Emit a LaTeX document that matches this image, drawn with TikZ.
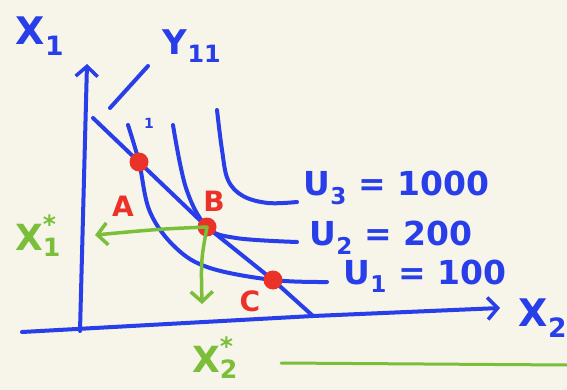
\documentclass[tikz,border=0pt]{standalone}
\usepackage{amsmath}
\usepackage{fontspec}
\setmainfont{DejaVu Sans}
\usetikzlibrary{arrows.meta}

\definecolor{paper}{RGB}{247,244,234}
\definecolor{penblue}{RGB}{40,62,232}
\definecolor{penred}{RGB}{234,50,40}
\definecolor{pengreen}{RGB}{122,190,58}

\tikzset{
    blueink/.style={penblue, line width=4pt, line cap=round, line join=round},
    greenink/.style={pengreen, line width=3.5pt, line cap=round, line join=round},
    barb/.style={-{Straight Barb[length=10pt, width=22pt, line width=3.5pt]}},
    optdot/.style={circle, fill=penred, inner sep=0pt, minimum size=19pt},
    ptlabel/.style={penred, font=\fontsize{28}{28}\selectfont\bfseries},
    ulabel/.style={penblue, anchor=west, font=\fontsize{33}{33}\selectfont\bfseries},
    axlabel/.style={penblue, font=\fontsize{38}{38}\selectfont\bfseries},
    starlabel/.style={pengreen, font=\fontsize{36}{36}\selectfont\bfseries}
}

\begin{document}
\begin{tikzpicture}[x=1pt, y=-1pt]
    % Paper
    \fill[paper] (0,0) rectangle (567,390);
    \useasboundingbox (0,0) rectangle (567,390);

    % Axes
    \coordinate (yfoot) at (80,331);
    \coordinate (ytip) at (87,64);
    \coordinate (xfoot) at (22,332);
    \coordinate (xbend) at (313,316);
    \coordinate (xtip) at (500,308);
    \draw[blueink, barb] (yfoot) -- (ytip);
    \draw[blueink, barb] (xfoot) -- (xbend) -- (xtip);
    \node[axlabel] (xone) at (40,36) {X\textsubscript{1}};
    \node[axlabel] (xtwo) at (543,318) {X\textsubscript{2}};

    % Optimal bundles
    \coordinate (pA) at (139,162);
    \coordinate (pB) at (207,227);
    \coordinate (pC) at (273,280);

    % Budget line and stray stroke
    \coordinate (btop) at (93,118);
    \draw[blueink] (btop) -- (pA) -- (pB) -- (pC) -- (xbend);
    \draw[blueink] (110,108) -- (148,66);
    \node[penblue, font=\fontsize{34}{34}\selectfont\bfseries] (ylab) at (192,46) {Y\textsubscript{11}};
    \node[penblue, font=\fontsize{14}{14}\selectfont\bfseries] (one) at (149,123) {1};

    % Indifference curves
    \draw[blueink] plot[smooth, tension=0.6] coordinates {
        (128,125) (pA) (150,212) (176,248) (210,268) (pC) (327,282)
    };
    \draw[blueink] plot[smooth, tension=0.6] coordinates {
        (173,125) (186,188) (pB) (236,238) (297,242)
    };
    \draw[blueink] plot[smooth, tension=0.6] coordinates {
        (217,110) (222,150) (228,180) (243,196) (268,203) (297,202)
    };
    \node[ulabel] (uthree) at (300,188) {U\textsubscript{3} = 1000};
    \node[ulabel] (utwo) at (306,238) {U\textsubscript{2} = 200};
    \node[ulabel] (uone) at (340,276) {U\textsubscript{1} = 100};

    % Points
    \node[optdot] (A) at (pA) {};
    \node[optdot] (B) at (pB) {};
    \node[optdot] (C) at (pC) {};
    \node[ptlabel] (alab) at (123,206) {A};
    \node[ptlabel] (blab) at (214,201) {B};
    \node[ptlabel] (clab) at (250,301) {C};

    % Demanded quantities
    \coordinate (xonestar) at (95,235);
    \coordinate (xtwostar) at (202,304);
    \draw[greenink, barb] (pB) .. controls (160,229) .. (xonestar);
    \draw[greenink, barb] (pB) .. controls (201,260) .. (xtwostar);
    \node[starlabel] (xoneS) at (38,236) {$\text{X}^{\text{*}}_{\text{1}}$};
    \node[starlabel] (xtwoS) at (215,358) {$\text{X}^{\text{*}}_{\text{2}}$};
    \coordinate (lineL) at (281,363);
    \coordinate (lineR) at (567,365);
    \draw[greenink, line width=3pt] (lineL) -- (lineR);
\end{tikzpicture}
\end{document}
